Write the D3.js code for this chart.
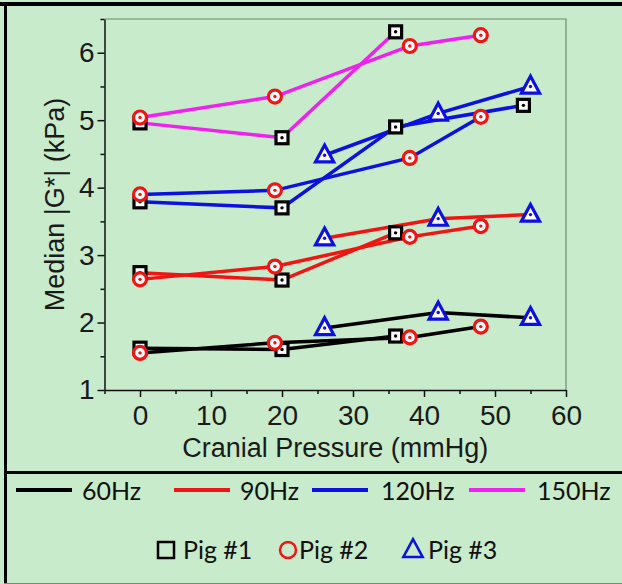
<!DOCTYPE html>
<html>
<head>
<meta charset="UTF-8"/>
<title>Median |G*| vs cranial pressure</title>
<script src="https://cdn.jsdelivr.net/npm/d3@7"></script>
<style>
body { margin: 0; background: #fff; }
svg { display: block; }
.tick text { font-family: 'Liberation Sans', Arial, sans-serif; font-size: 28px; fill: #1a1a1a; }
.axis path, .axis line { stroke: #111; stroke-width: 1.5; }
.label { font-family: 'Liberation Sans', Arial, sans-serif; font-size: 27px; fill: #1a1a1a; }
.legend text { font-family: Lato, 'Open Sans', sans-serif; font-size: 25px; fill: #111; }
</style>
</head>
<body>
<svg width="622" height="584"></svg>
<script>
// frequencies (line colours) and pigs (marker shapes)
const freqs = ['60Hz', '90Hz', '120Hz', '150Hz'];
const freqColors = ['#000000', '#f01414', '#0c10e0', '#f020f0'];
const pigs = ['Pig #1', 'Pig #2', 'Pig #3'];
const pigColors = ['#000000', '#f01414', '#0c10e0'];

// cranial pressure (mmHg) per pig
const pig1X = [0, 20, 36, 54];
const pig2X = [0, 19, 38, 48];
const pig3X = [26, 42, 55];

// median |G*| (kPa), by frequency, per pig
const pig1G = {
  '60Hz': [1.62, 1.60, 1.80],
  '90Hz': [2.74, 2.63, 3.33],
  '120Hz': [3.79, 3.70, 4.90, 5.22],
  '150Hz': [4.96, 4.74, 6.31]
};
const pig2G = {
  '60Hz': [1.55, 1.70, 1.78, 1.94],
  '90Hz': [2.64, 2.83, 3.27, 3.43],
  '120Hz': [3.90, 3.96, 4.44, 5.05],
  '150Hz': [5.04, 5.35, 6.10, 6.26]
};
const pig3G = {
  '60Hz': [1.92, 2.15, 2.07],
  '90Hz': [3.25, 3.54, 3.60],
  '120Hz': [4.48, 5.10, 5.50],
  '150Hz': []
};

const xTicks = [0, 10, 20, 30, 40, 50, 60];
const yTicks = [1, 2, 3, 4, 5, 6];

const pigX = [pig1X, pig2X, pig3X];
const pigG = [pig1G, pig2G, pig3G];

// build series: one per (frequency, pig)
const series = [];
freqs.forEach((f, fi) => {
  pigs.forEach((p, pi) => {
    const vals = pigG[pi][f];
    if (!vals.length) return;
    series.push({
      freq: f, pig: pi, color: freqColors[fi],
      points: vals.map((v, i) => ({ x: pigX[pi][i], y: v }))
    });
  });
});

const svg = d3.select('svg');
const W = 622, H = 584;
const bg = '#c7ebcb';

svg.append('rect').attr('width', W).attr('height', H).attr('fill', bg);

const pl = 104.5, pr = 566, pt = 19, pb = 390;

const x = d3.scaleLinear().domain([-5, 60]).range([pl, pr]);
const y = d3.scaleLinear().domain([1, 6.5]).range([pb, pt]);

// plot frame (top / right thin grey)
svg.append('path')
  .attr('d', `M${pl},${pt}H${pr}V${pb}`)
  .attr('fill', 'none').attr('stroke', '#6f8a72').attr('stroke-width', 1.2);

// minor ticks
const xMinor = d3.range(-5, 60, 10);
const yMinor = d3.range(1.5, 6.6, 1);

svg.append('g').attr('class', 'axis')
  .attr('transform', `translate(0,${pb})`)
  .call(d3.axisBottom(x).tickValues(xMinor).tickSize(4).tickFormat(''))
  .call(g => g.select('.domain').remove());
svg.append('g').attr('class', 'axis')
  .attr('transform', `translate(${pl},0)`)
  .call(d3.axisLeft(y).tickValues(yMinor).tickSize(4).tickFormat(''))
  .call(g => g.select('.domain').remove());

svg.append('g').attr('class', 'axis')
  .attr('transform', `translate(0,${pb})`)
  .call(d3.axisBottom(x).tickValues(xTicks).tickSize(7).tickSizeOuter(0).tickPadding(8).tickFormat(d3.format('d')));
svg.append('g').attr('class', 'axis')
  .attr('transform', `translate(${pl},0)`)
  .call(d3.axisLeft(y).tickValues(yTicks).tickSize(7).tickSizeOuter(0).tickPadding(3).tickFormat(d3.format('d')));

// axis labels
svg.append('text').attr('class', 'label')
  .attr('x', (pl + pr) / 2).attr('y', 457)
  .attr('text-anchor', 'middle')
  .text('Cranial Pressure (mmHg)');
svg.append('text').attr('class', 'label')
  .attr('transform', `translate(64,${(pt + pb) / 2}) rotate(-90)`)
  .attr('text-anchor', 'middle')
  .text('Median |G*| (kPa)');

// lines
const line = d3.line().x(d => x(d.x)).y(d => y(d.y));
svg.append('g').selectAll('path')
  .data(series).enter().append('path')
  .attr('d', d => line(d.points))
  .attr('fill', 'none')
  .attr('stroke', d => d.color)
  .attr('stroke-width', 3.5);

// markers
const triPath = (cx, cy, s) => `M${cx},${cy - s * 0.62}L${cx + s * 0.55},${cy + s * 0.4}L${cx - s * 0.55},${cy + s * 0.4}Z`;

function drawMarker(g, pi, cx, cy, size, dot) {
  const c = pigColors[pi];
  const sw = dot ? 3.2 : 2.5;
  if (pi === 0) {
    g.append('rect').attr('x', cx - size / 2).attr('y', cy - size / 2)
      .attr('width', size).attr('height', size)
      .attr('fill', dot ? '#fff' : 'none').attr('stroke', c).attr('stroke-width', sw);
  } else if (pi === 1) {
    g.append('circle').attr('cx', cx).attr('cy', cy).attr('r', size / 2)
      .attr('fill', dot ? '#fff' : 'none').attr('stroke', c).attr('stroke-width', sw);
  } else {
    g.append('path').attr('d', triPath(cx, cy, size * 1.1))
      .attr('fill', dot ? '#fff' : 'none').attr('stroke', c).attr('stroke-width', sw)
      .attr('stroke-linejoin', 'miter');
  }
  if (dot) g.append('circle').attr('cx', cx).attr('cy', cy).attr('r', 1.7).attr('fill', c);
}

const markers = svg.append('g');
const markerSize = [12, 13, 15];
[0, 1, 2].forEach(pi => {
  series.filter(s => s.pig === pi).forEach(s => {
    s.points.forEach(p => drawMarker(markers.append('g'), pi, x(p.x), y(p.y), markerSize[pi], true));
  });
});

// outer frame
svg.append('line').attr('x1', 0).attr('x2', W).attr('y1', 4).attr('y2', 4)
  .attr('stroke', '#000').attr('stroke-width', 4);
svg.append('line').attr('x1', 5.5).attr('x2', 5.5).attr('y1', 2).attr('y2', H)
  .attr('stroke', '#000').attr('stroke-width', 3);
svg.append('line').attr('x1', 4).attr('x2', W).attr('y1', 472.5).attr('y2', 472.5)
  .attr('stroke', '#000').attr('stroke-width', 3);
svg.append('line').attr('x1', 4).attr('x2', W).attr('y1', 583.5).attr('y2', 583.5)
  .attr('stroke', '#7a8a7c').attr('stroke-width', 1);

// legend
const legend = svg.append('g').attr('class', 'legend');
const lineX = [16, 174, 312, 469];
const lineTextX = [82, 240, 381, 537];
freqs.forEach((f, i) => {
  legend.append('line')
    .attr('x1', lineX[i]).attr('x2', lineX[i] + 56)
    .attr('y1', 490).attr('y2', 490)
    .attr('stroke', freqColors[i]).attr('stroke-width', 4);
  legend.append('text').attr('x', lineTextX[i]).attr('y', 500).text(f);
});
const symX = [166, 288, 413];
const symTextX = [183, 299, 428];
pigs.forEach((p, i) => {
  drawMarker(legend.append('g'), i, symX[i], 550, 16, false);
  legend.append('text').attr('x', symTextX[i]).attr('y', 559).text(p);
});
</script>
</body>
</html>
